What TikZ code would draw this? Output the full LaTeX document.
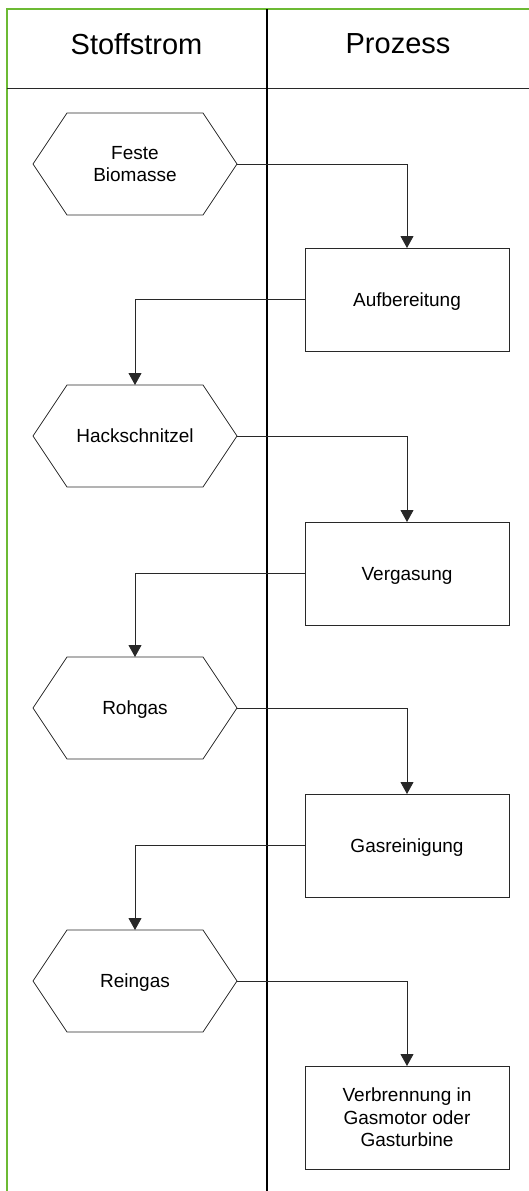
\documentclass[tikz,border=0pt]{standalone}
\usepackage{fontspec}
\setmainfont{Liberation Sans}
\usetikzlibrary{arrows.meta}
\definecolor{framegreen}{RGB}{108,186,52}
\definecolor{linegray}{RGB}{40,40,40}
\newcommand\hexoutline[1]{%
  \draw[hexline] (#1.west) -- ([xshift=34pt]#1.north west) -- ([xshift=-34pt]#1.north east)
    -- (#1.east) -- ([xshift=-34pt]#1.south east) -- ([xshift=34pt]#1.south west) -- cycle;}
\begin{document}
\begin{tikzpicture}[x=1pt,y=-1pt,
  hexnode/.style={minimum width=204pt,minimum height=102pt,inner sep=0pt,outer sep=0pt,
    align=center,text depth=0pt,font=\fontsize{19}{22.5}\selectfont},
  hexline/.style={draw=linegray,line width=0.8pt},
  procbox/.style={draw=linegray,line width=0.8pt,minimum width=204pt,minimum height=103pt,
    inner sep=0pt,outer sep=0pt,align=center,text depth=0pt,font=\fontsize{19}{22.5}\selectfont},
  arr/.style={draw=linegray,line width=0.8pt,-{Triangle[width=13pt,length=12pt]}},
  header/.style={font=\fontsize{29}{34}\selectfont,inner sep=0pt}]
\useasboundingbox (0,0) rectangle (529,1191);
% frame
\draw[framegreen,line width=2pt] (6.5,1191) -- (6.5,9) -- (529,9);
\draw[linegray,line width=1pt] (6.5,88) -- (529,88);
\draw[black,line width=1.5pt] (267,9) -- (267,1191);
% headers
\node[header] (hs) at (136.5,44) {Stoffstrom};
\node[header] (hp) at (398,44) {Prozess};
% hexagons
\node[hexnode] (h1) at (135,164) {Feste\\Biomasse};
\node[hexnode] (h2) at (135,436) {Hackschnitzel};
\node[hexnode] (h3) at (135,708) {Rohgas};
\node[hexnode] (h4) at (135,981) {Reingas};
\hexoutline{h1}\hexoutline{h2}\hexoutline{h3}\hexoutline{h4}
% boxes
\node[procbox] (b1) at (407,299.5) {Aufbereitung};
\node[procbox] (b2) at (407,573.5) {Vergasung};
\node[procbox] (b3) at (407,845.5) {Gasreinigung};
\node[procbox] (b4) at (407,1117.5) {Verbrennung in\\Gasmotor oder\\Gasturbine};
% connectors
\draw[arr] (h1.east) -| (b1.north);
\draw[arr] (b1.west) -| (h2.north);
\draw[arr] (h2.east) -| (b2.north);
\draw[arr] (b2.west) -| (h3.north);
\draw[arr] (h3.east) -| (b3.north);
\draw[arr] (b3.west) -| (h4.north);
\draw[arr] (h4.east) -| (b4.north);
\end{tikzpicture}
\end{document}
